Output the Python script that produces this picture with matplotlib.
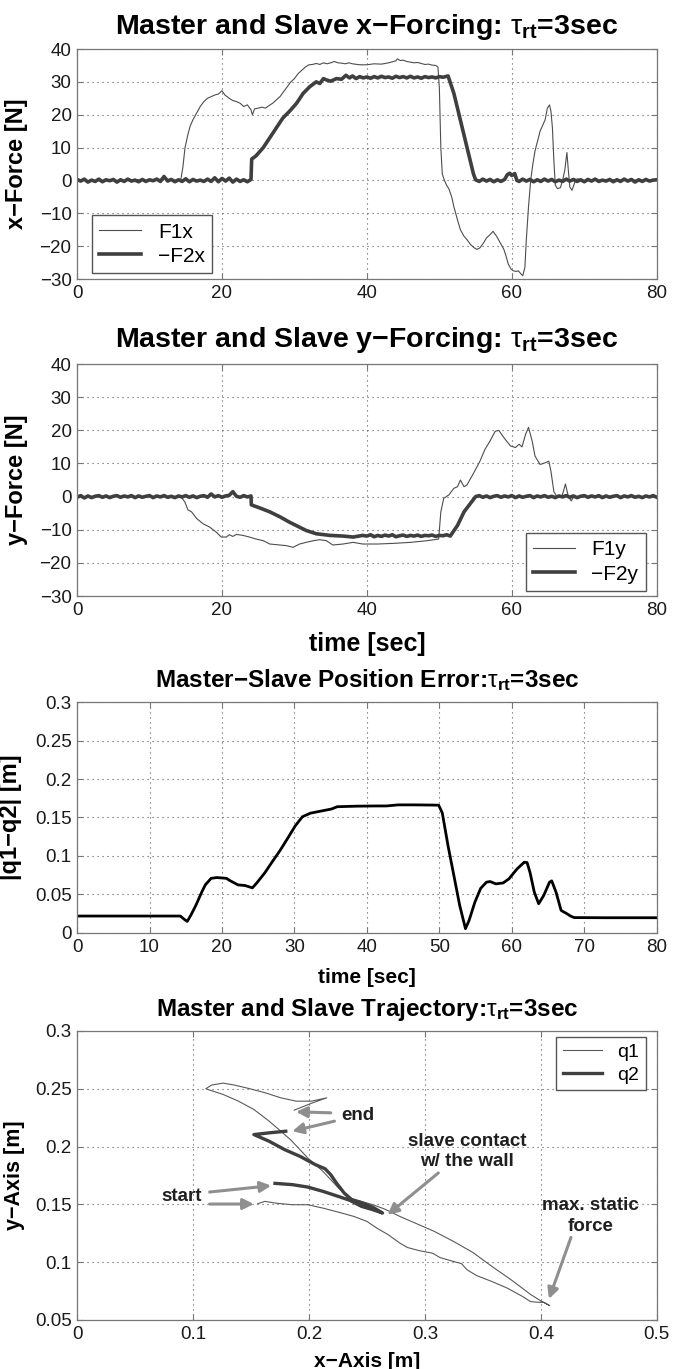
import numpy as np
import matplotlib
matplotlib.use("Agg")
import matplotlib.pyplot as plt
from matplotlib.ticker import FuncFormatter

plt.rcParams['font.family'] = ['Liberation Sans', 'DejaVu Sans']
plt.rcParams['mathtext.fontset'] = 'custom'
plt.rcParams['mathtext.rm'] = 'Liberation Sans'
plt.rcParams['mathtext.bf'] = 'Liberation Sans:bold'
plt.rcParams['mathtext.it'] = 'Liberation Sans:italic'

# ---------------- panel 1: x forcing ----------------
t_f1x = [0, 2, 4, 6, 8, 10, 12, 14, 14.3, 14.6, 14.9, 15.3, 15.6, 16, 16.5, 17, 17.5, 18, 18.5, 19, 19.5,
         20, 20.4, 21, 21.5, 22, 22.5, 23, 23.5, 24, 24.2, 24.5, 25, 25.5, 26, 26.5, 27, 27.5, 28, 28.5,
         29, 29.5, 30, 30.5, 31, 31.5, 32, 32.5, 33, 33.5, 34, 34.5, 35, 35.5, 36, 36.5, 37, 37.5, 38,
         39, 40, 41, 42, 43, 44, 44.2, 44.6, 45, 45.5, 46, 46.5, 47, 47.5, 48, 48.5, 49, 49.5, 49.8,
         50, 50.2, 50.4, 50.7, 51, 51.3, 51.7, 52, 52.5, 52.9, 53.4, 53.8, 54.3, 54.8, 55.2, 55.6, 56.1,
         56.5, 57, 57.4, 57.9, 58.4, 58.9, 59.2, 59.5, 59.9, 60.2, 60.6, 60.9, 61.2, 61.5, 61.8, 62,
         62.3, 62.6, 62.9, 63.2, 63.6, 63.9, 64.3, 64.6, 64.9, 65.2, 65.4, 65.6, 65.8, 66, 66.3, 66.7,
         67, 67.3, 67.6, 67.8, 68, 68.3, 68.7, 69, 70, 74, 80]
f1x = [0.2, -0.3, 0.1, -0.2, 0.3, -0.1, 0.5, 0, 0, 4, 10, 14, 16.5, 18.5, 20.5, 22.5, 24, 25, 25.5, 26, 26.3,
       27.3, 26, 25, 24.3, 24, 23.5, 22.5, 23, 21.5, 20, 21.8, 22, 22.3, 22, 22.8, 23.5, 24.5, 25.5, 27,
       28.5, 30, 31, 32.5, 33.5, 34.5, 35.2, 35.3, 35.6, 35.3, 35.8, 35.5, 35.8, 36.2, 35.8, 35.7, 35.5, 35.8, 35.5,
       35.2, 35.2, 35.5, 35.4, 35.8, 36.4, 37, 36.5, 36.6, 36.2, 36, 35.8, 35.9, 35.6, 35.3, 35.4, 35.1, 35, 34.5,
       28, 10, 2, 0, -1.5, -2.5, -5, -8, -12, -15, -17, -18, -19.5, -20.5, -21, -20.5, -19,
       -17.5, -16.5, -15.5, -17, -19, -21, -23, -25.4, -27, -27.5, -27.7, -27.5, -28.3, -29, -26.5, -18,
       -8, 0, 5, 9, 12.5, 15, 17, 18.5, 22, 23, 21, 16, 6, -1.5, -2.5, -2.2,
       0, 3, 8.5, 3, -2, -3, -0.5, 0.5, 0, 0.2, 0]

t_f2x = [0, 0.5, 1, 1.5, 2, 2.5, 3, 3.5, 4, 4.5, 5, 5.5, 6, 6.5, 7, 7.5, 8, 8.5, 9, 9.5, 10, 10.5, 11, 11.5,
         12, 12.5, 13, 13.5, 14, 14.5, 15, 15.5, 16, 16.5, 17, 17.5, 18, 18.5, 19, 19.5, 20, 20.5, 21, 21.5,
         22, 22.5, 23, 23.5, 24, 24.1, 24.7, 25.7, 26.6, 27.5, 28.4, 29.3, 30.3, 31.2, 32.1, 33, 33.5, 34,
         34.4, 35, 35.8, 36.5, 37.1, 37.6, 38, 38.5, 39, 39.5, 40, 40.5, 41, 41.5, 42, 42.5, 43, 43.5, 44,
         44.5, 45, 45.5, 46, 46.5, 47, 47.5, 48, 48.5, 49, 49.5, 50, 50.5, 51.2, 52, 52.9, 53.8, 54.7, 55,
         55.5, 56, 56.5, 57, 57.5, 58, 58.5, 59, 59.4, 59.7, 60, 60.4, 60.7, 61, 61.5, 62, 62.5, 63, 63.5,
         64, 64.5, 65, 65.5, 66, 66.5, 67, 67.5, 68, 68.5, 69, 69.5, 70, 70.5, 71, 71.5, 72, 72.5, 73, 73.5,
         74, 74.5, 75, 75.5, 76, 76.5, 77, 77.5, 78, 78.5, 79, 79.5, 80]
f2x = [0.3, -0.2, 0.4, -0.5, 0.1, -0.3, 0.4, -0.4, 0.2, -0.1, 0.3, -0.5, 0.2, -0.3, 0.4, -0.2, 0.1, -0.4,
       0.3, -0.3, 0.2, -0.1, 0.4, -0.3, 1.2, -0.2, 0.3, -0.4, 0.2, -0.3, 0.5, -0.4, 0.3, -0.2, 0.1, -0.3,
       0.4, -0.3, 0.8, -0.4, 0.6, -0.2, 0.7, -0.5, 0.4, -0.3, 0.2, -0.4, 0.3, 6.5, 7.5, 10, 13, 16, 19, 21,
       23.5, 26.5, 28.5, 30, 29.5, 31, 30.6, 30.2, 31, 30.8, 32, 31.2, 31.8, 31, 31.6, 31.2, 31.5, 31.1,
       31.6, 31.2, 31.7, 31.3, 31.5, 31.1, 31.7, 31.3, 31.6, 31.2, 31.7, 31.2, 31.5, 31.1, 31.6, 31.3,
       31.5, 31.2, 31.6, 31.4, 31.8, 26.5, 18.3, 10.2, 2, 0.2, -0.3, 0.4, -0.2, 0.3, -0.4, 0.2, -0.3,
       0.3, 1.8, 2.2, 1.5, 2.1, 0, -0.3, 0.4, -0.2, 0.3, -0.4, 0.2, -0.3, 0.4, -0.2, 0.3, -0.4, 0.1,
       -0.3, 0.4, -0.2, 0.3, -0.3, 0.2, -0.4, 0.3, -0.2, 0.4, -0.3, 0.1, -0.2, 0.3, -0.4, 0.2, -0.3, 0.4,
       -0.2, 0.3, -0.5, 0.2, -0.3, 0.3, -0.2, 0.1, 0.2]

# ---------------- panel 2: y forcing ----------------
t_f1y = [0, 4, 8, 12, 14.3, 14.85, 15.3, 15.8, 16.5, 17.4, 18.3, 19.2, 19.9, 20.6, 21, 21.5, 22, 22.9, 23.8,
         24.7, 25.7, 26.6, 28, 28.9, 29.8, 30.7, 31.6, 32.6, 33.5, 34.4, 35.3, 36.7, 38.1, 39.4, 41.5, 43.7,
         46, 48.3, 49.9, 50.2, 50.6, 51.3, 52, 52.5, 52.9, 53.4, 53.8, 54.7, 55.6, 56.3, 57, 57.7, 58.2,
         58.9, 59.8, 60.5, 61, 61.4, 61.9, 62.3, 62.8, 63.2, 63.9, 64.6, 65.1, 65.4, 65.8, 66.2, 66.9, 67.4,
         67.8, 68.2, 68.5, 70, 80]
f1y = [0, 0.1, -0.1, 0.1, 0, -1.5, -4, -4.6, -6.6, -8.2, -9.2, -10.7, -12.2, -12.2, -11.5, -12, -11.4, -11.7,
       -12.2, -12.8, -13.3, -14.3, -14.6, -14.8, -15.3, -14.3, -13.8, -13.3, -13, -13.3, -14.6, -14.3, -13.8,
       -14.3, -14.3, -14.1, -13.8, -13.3, -12.8, -4.6, -0.5, 0.5, 2.5, 3, 5, 3, 3.5, 7, 10.7, 14.3, 16.8, 19.7,
       20, 17.8, 15.3, 14.8, 15.8, 15, 18.8, 20.9, 16.8, 12.2, 9.7, 10.2, 10.7, 7.6, 1.5, 0, 0, 3.8, 0, -1.3,
       -0.2, 0.1, 0]

t_f2y = [0, 0.5, 1, 1.5, 2, 2.5, 3, 3.5, 4, 4.5, 5, 5.5, 6, 6.5, 7, 7.5, 8, 8.5, 9, 9.5, 10, 10.5, 11, 11.5,
         12, 12.5, 13, 13.5, 14, 14.5, 15, 15.5, 16, 16.5, 17, 17.5, 18, 18.5, 19, 19.5, 20, 20.5, 21, 21.5,
         22, 22.5, 23, 23.5, 24, 24.05, 25.2, 26.6, 28, 29.3, 30.7, 31.6, 33, 34.9, 36.7, 38.1, 39.4, 40,
         40.5, 41, 41.5, 42, 42.5, 43, 43.5, 44, 44.5, 45, 45.5, 46, 46.5, 47, 47.5, 48, 48.5, 49, 49.5, 50,
         50.5, 51, 51.5, 52.5, 53.4, 54.3, 55, 55.5, 56, 56.5, 57, 57.5, 58, 58.5, 59, 59.5, 60, 60.5, 61,
         61.5, 62, 62.5, 63, 63.5, 64, 64.5, 65, 65.5, 66, 66.5, 67, 67.5, 68, 68.5, 69, 69.5, 70, 70.5, 71,
         71.5, 72, 72.5, 73, 73.5, 74, 74.5, 75, 75.5, 76, 76.5, 77, 77.5, 78, 78.5, 79, 79.5, 80]
f2y = [-0.2, 0.3, -0.4, 0.2, -0.3, 0.1, 0.3, -0.2, 0.2, -0.3, 0.1, 0.3, -0.2, 0.2, -0.1, 0.3, -0.3, 0.2,
       -0.2, 0.1, 0.3, -0.3, 0.2, -0.1, 0.3, -0.2, 0.1, -0.3, 0.2, -0.1, 0.3, -0.2, 0.2, -0.3, 0.1, 0.3,
       -0.2, 0.8, -0.1, 0.3, -0.2, 0.2, 0.4, 1.5, 0.1, -0.2, 0.3, -0.1, 0.2, -2.5, -3.4, -4.6, -6.1, -7.7,
       -9.2, -10.2, -11.2, -11.7, -11.9, -12.2, -11.7, -11.9, -11.5, -12.1, -11.7, -12.0, -11.6, -11.9,
       -11.5, -12.1, -11.8, -11.6, -12.0, -11.7, -11.9, -11.6, -12.0, -11.7, -11.8, -11.6, -12.0, -11.7,
       -11.8, -11.5, -11.9, -8.7, -4.6, -2, 0, 0.3, -0.2, 0.2, -0.3, 0.1, 0.3, -0.2, 0.2, -0.1,
       0.3, -0.3, 0.2, -0.2, 0.1, 0.3, -0.3, 0.2, -0.1, 0.3, -0.2, 0.1, -0.3, 0.2, -0.1, 0.3, -0.2, 0.2,
       -0.3, 0.1, 0.3, -0.2, 0.2, -0.1, 0.3, -0.3, 0.2, -0.2, 0.1, 0.3, -0.3, 0.2, -0.1, 0.3, -0.2, 0.1,
       -0.3, 0.2, -0.1, 0.3, -0.2]

# ---------------- panel 3: position error ----------------
t_err = [0, 14.25, 14.8, 15.2, 15.7, 16.4, 17.2, 17.7, 18.5, 19.3, 20.6, 21.1, 22.2, 23.2, 24.2, 24.8, 25.9,
         26.9, 28, 29, 30.1, 31.1, 32.2, 33.8, 35.1, 35.9, 38.5, 41.2, 42.7, 44.3, 46.4, 48.5, 49.9, 50.4,
         51.2, 52, 52.8, 53.6, 54.1, 54.9, 55.7, 56.5, 57, 57.8, 58.8, 59.6, 60.7, 61.7, 62.1, 62.5, 63.1,
         63.7, 64.4, 65.2, 65.5, 66.1, 66.8, 67.6, 68.1, 68.6, 72.8, 80]
err = [0.022, 0.022, 0.0177, 0.015, 0.023, 0.036, 0.053, 0.0625, 0.071, 0.072, 0.071, 0.068, 0.0625, 0.0616,
       0.0586, 0.065, 0.078, 0.092, 0.107, 0.122, 0.139, 0.151, 0.1556, 0.1586, 0.161, 0.164, 0.1647, 0.165,
       0.165, 0.1664, 0.1664, 0.1662, 0.166, 0.156, 0.113, 0.0746, 0.036, 0.0056, 0.0164, 0.04, 0.058, 0.066,
       0.0668, 0.0638, 0.065, 0.0703, 0.083, 0.0918, 0.0915, 0.079, 0.053, 0.038, 0.0487, 0.066, 0.0677,
       0.053, 0.0293, 0.025, 0.022, 0.02, 0.0198, 0.0198]

# ---------------- panel 4: trajectories ----------------
q1_x = [0.1558, 0.162, 0.172, 0.1856, 0.199, 0.212, 0.2254, 0.2387, 0.25, 0.2585, 0.2685, 0.2784, 0.285,
        0.295, 0.3066, 0.313, 0.3248, 0.3315, 0.3364, 0.3447, 0.358, 0.3712, 0.3845, 0.3911, 0.3977, 0.4027,
        0.4077, 0.401, 0.391, 0.3745, 0.358, 0.3414, 0.3248, 0.3082, 0.2917, 0.2784, 0.2652, 0.2552, 0.2453,
        0.2353, 0.2254, 0.2188, 0.212, 0.2055, 0.1989, 0.1922, 0.184, 0.1757, 0.1657, 0.1525, 0.1392, 0.126,
        0.111, 0.116, 0.126, 0.1359, 0.1492, 0.1624, 0.1757, 0.1889, 0.2022, 0.2154, 0.2022, 0.1873]
q1_y = [0.1506, 0.1526, 0.151, 0.1497, 0.1497, 0.1468, 0.1433, 0.1396, 0.1353, 0.1295, 0.1237, 0.1165, 0.1127,
        0.110, 0.1078, 0.104, 0.1006, 0.0988, 0.0934, 0.0884, 0.0832, 0.0775, 0.0702, 0.0659, 0.0653, 0.0653,
        0.0624, 0.0659, 0.0722, 0.0847, 0.0962, 0.1084, 0.1179, 0.1266, 0.1338, 0.1396, 0.146, 0.1497, 0.1526,
        0.1555, 0.1642, 0.1714, 0.1786, 0.1844, 0.1902, 0.1974, 0.2061, 0.2133, 0.222, 0.2321, 0.2393, 0.2451,
        0.25, 0.2532, 0.2549, 0.2532, 0.25, 0.2465, 0.2422, 0.2393, 0.2393, 0.2422, 0.2375, 0.2315]
q2_x = [0.1707, 0.1856, 0.1989, 0.212, 0.2254, 0.2353, 0.2453, 0.2552, 0.2635, 0.2552, 0.2453, 0.237, 0.2304,
        0.2237, 0.2188, 0.2138, 0.2055, 0.1922, 0.179, 0.1657, 0.1525, 0.1657, 0.18]
q2_y = [0.1682, 0.1671, 0.165, 0.1613, 0.1569, 0.1535, 0.1483, 0.1454, 0.1425, 0.1475, 0.1515, 0.154, 0.1598,
        0.1685, 0.1757, 0.1809, 0.1844, 0.1916, 0.1974, 0.2046, 0.2104, 0.2119, 0.2133]

# annotation arrows: (tail x, tail y, head x, head y)
arrows = [(0.2188, 0.2292, 0.1889, 0.2301), (0.222, 0.222, 0.1856, 0.2133),
          (0.1143, 0.1607, 0.1674, 0.1662), (0.1143, 0.1503, 0.1525, 0.1503),
          (0.3116, 0.1772, 0.2678, 0.141), (0.426, 0.1214, 0.407, 0.0682)]
notes = [(0.242, 0.2272, 'end'), (0.090, 0.1569, 'start'),
         (0.3364, 0.1955, 'slave contact\nw/ the wall'), (0.4425, 0.140, 'max. static\nforce')]

TAU = r'$\mathrm{\tau}_{\mathbf{rt}}$'
thin_c = '#4d4d4d'
thick_c = '#3f3f3f'


def fmt(v, pos):
    return ('%g' % round(v, 4)).replace('-', '\u2212')


def style(ax, xticks, yticks, xlim, ylim):
    ax.set_xlim(xlim)
    ax.set_ylim(ylim)
    ax.set_xticks(xticks)
    ax.set_yticks(yticks)
    ax.xaxis.set_major_formatter(FuncFormatter(fmt))
    ax.yaxis.set_major_formatter(FuncFormatter(fmt))
    ax.grid(True, linestyle=(0, (1, 3.5)), color='#555555', linewidth=0.8)
    ax.tick_params(direction='in', length=4, width=0.8, color='#777777', top=True, right=True,
                   labelsize=13.5, labelcolor='#1a1a1a', pad=4)
    for s in ax.spines.values():
        s.set_color('#777777')
        s.set_linewidth(0.9)


def legend(ax, loc, anchor, size):
    ax.legend(loc=loc, bbox_to_anchor=anchor, fontsize=size, handlelength=2.0, fancybox=False,
              edgecolor='#555555', framealpha=1, borderaxespad=0, borderpad=0.35, labelspacing=0.25)


fig = plt.figure(figsize=(6.82, 13.69), dpi=100)
L, W = 0.113, 0.850
ax1 = fig.add_axes([L, 0.7962, W, 0.168])
ax2 = fig.add_axes([L, 0.5646, W, 0.1695])
ax3 = fig.add_axes([L, 0.3185, W, 0.1687])
ax4 = fig.add_axes([L, 0.0358, W, 0.2111])

# panel 1
ax1.plot(t_f1x, f1x, color=thin_c, lw=0.8, label='F1x')
ax1.plot(t_f2x, f2x, color=thick_c, lw=2.6, label='\u2212F2x')
style(ax1, np.arange(0, 81, 20), np.arange(-30, 41, 10), (0, 80), (-30, 40))
ax1.set_title('Master and Slave x\u2212Forcing: ' + TAU + '=3sec', fontsize=20.5, fontweight='bold', pad=11)
ax1.set_ylabel('x\u2212Force [N]', fontsize=17, fontweight='bold')
ax1.yaxis.set_label_coords(-0.085, 0.5)
legend(ax1, 'lower left', (0.026, 0.026), 15)

# panel 2
ax2.plot(t_f1y, f1y, color=thin_c, lw=0.8, label='F1y')
ax2.plot(t_f2y, f2y, color=thick_c, lw=2.6, label='\u2212F2y')
style(ax2, np.arange(0, 81, 20), np.arange(-30, 41, 10), (0, 80), (-30, 40))
ax2.set_title('Master and Slave y\u2212Forcing: ' + TAU + '=3sec', fontsize=20.5, fontweight='bold', pad=12)
ax2.set_ylabel('y\u2212Force [N]', fontsize=17, fontweight='bold')
ax2.yaxis.set_label_coords(-0.085, 0.5)
ax2.set_xlabel('time [sec]', fontsize=18, fontweight='bold')
ax2.xaxis.set_label_coords(0.5, -0.155)
legend(ax2, 'lower right', (0.981, 0.022), 15)

# panel 3
ax3.plot(t_err, err, color='black', lw=2.0)
style(ax3, np.arange(0, 81, 10), np.arange(0, 0.301, 0.05), (0, 80), (0, 0.3))
ax3.set_title('Master\u2212Slave Position Error:' + TAU + '=3sec', fontsize=17.5, fontweight='bold', pad=11)
ax3.set_ylabel('|q1\u2212q2| [m]', fontsize=17, fontweight='bold')
ax3.yaxis.set_label_coords(-0.095, 0.5)
ax3.set_xlabel('time [sec]', fontsize=15, fontweight='bold')
ax3.xaxis.set_label_coords(0.5, -0.15)

# panel 4
ax4.plot(q1_x, q1_y, color='#5a5a5a', lw=0.8, label='q1')
ax4.plot(q2_x, q2_y, color=thick_c, lw=2.4, label='q2')
style(ax4, np.arange(0, 0.501, 0.1), np.arange(0.05, 0.301, 0.05), (0, 0.5), (0.05, 0.3))
ax4.set_title('Master and Slave Trajectory:' + TAU + '=3sec', fontsize=17.5, fontweight='bold', pad=11)
ax4.set_ylabel('y\u2212Axis [m]', fontsize=15.5, fontweight='bold')
ax4.yaxis.set_label_coords(-0.09, 0.5)
ax4.set_xlabel('x\u2212Axis [m]', fontsize=15, fontweight='bold')
ax4.xaxis.set_label_coords(0.5, -0.11)
legend(ax4, 'upper right', (0.981, 0.98), 14)
for x0, y0, x1, y1 in arrows:
    ax4.annotate('', xy=(x1, y1), xytext=(x0, y0),
                 arrowprops=dict(arrowstyle='-|>', color='#8f8f8f', lw=2.2, mutation_scale=16,
                                 shrinkA=0, shrinkB=0))
for x, y, s in notes:
    ax4.text(x, y, s, ha='center', va='center', fontsize=13.5, fontweight='bold', color='#1f1f1f',
             linespacing=1.25)

fig.savefig('out.png', dpi=100)
